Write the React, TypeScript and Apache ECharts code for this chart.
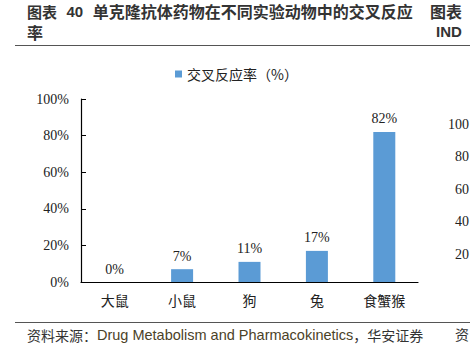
import React, { useEffect, useRef } from "react";
import * as echarts from "echarts";

const categories = ["大鼠", "小鼠", "狗", "兔", "食蟹猴"];
const values = [0, 7, 11, 17, 82];
const yTicks = [0, 20, 40, 60, 80, 100];
const rightTicks = ["100", "80", "60", "40", "20"];
const seriesName = "交叉反应率（%）";
const titleLine1 = "单克隆抗体药物在不同实验动物中的交叉反应";
const titleLine2 = "率";
const sourceLatin = "Drug Metabolism and Pharmacokinetics";

const CJK = '"Noto Sans CJK SC", sans-serif';
const SERIF = '"Liberation Serif", "Times New Roman", serif';
const SANS = '"Liberation Sans", Arial, sans-serif';

export default function App() {
  const ref = useRef<HTMLDivElement>(null);
  useEffect(() => {
    if (!ref.current) return;
    const chart = echarts.init(ref.current, undefined, { renderer: "svg" });
    const rightY = [124, 156, 189, 221, 254];
    chart.setOption({
      animation: false,
      backgroundColor: "#fff",
      legend: {
        data: [seriesName],
        left: 170,
        top: 62,
        itemWidth: 7,
        itemHeight: 7,
        itemGap: 4,
        icon: "rect",
        textStyle: { fontFamily: CJK, fontSize: 14, color: "#222" },
      },
      grid: { left: 81, right: 52, top: 99, bottom: 69, containLabel: false },
      xAxis: {
        type: "category",
        data: categories,
        axisLine: { lineStyle: { color: "#000", width: 1.2 } },
        axisTick: { inside: true, length: 5, lineStyle: { color: "#000" } },
        axisLabel: { fontFamily: CJK, fontSize: 14, color: "#222", margin: 11 },
      },
      yAxis: {
        type: "value",
        min: 0,
        max: 100,
        interval: 20,
        axisLine: { show: true, lineStyle: { color: "#000", width: 1.2 } },
        axisTick: { show: true, inside: true, length: 5, lineStyle: { color: "#000" } },
        splitLine: { show: false },
        axisLabel: {
          fontFamily: SERIF,
          fontSize: 14,
          color: "#222",
          margin: 12,
          formatter: (v: number) => (yTicks.includes(v) ? v + "%" : ""),
        },
      },
      series: [
        {
          name: seriesName,
          type: "bar",
          data: values,
          barWidth: 22,
          itemStyle: { color: "#5B9BD5" },
          label: {
            show: true,
            position: "top",
            distance: 6,
            formatter: "{c}%",
            fontFamily: SERIF,
            fontSize: 14,
            color: "#222",
          },
        },
      ],
      graphic: [
        {
          type: "text",
          left: 27,
          top: 3,
          style: {
            text: "{a|图表 }{b|40}{c| " + titleLine1 + "}",
            rich: {
              a: { fontFamily: CJK, fontSize: 15, lineHeight: 16, fill: "#333", fontWeight: "bold" },
              b: { fontFamily: SANS, fontSize: 15, lineHeight: 16, fill: "#333", fontWeight: "bold", padding: [0, 6, 0, 6] },
              c: { fontFamily: CJK, fontSize: 16, lineHeight: 16, fill: "#333", fontWeight: "bold" },
            },
          },
        },
        {
          type: "text",
          left: 27,
          top: 24,
          style: { text: titleLine2, fontFamily: CJK, fontSize: 16, lineHeight: 16, fill: "#333", fontWeight: "bold" },
        },
        {
          type: "text",
          left: 430,
          top: 3,
          style: { text: "图表", fontFamily: CJK, fontSize: 16, lineHeight: 16, fill: "#333", fontWeight: "bold" },
        },
        {
          type: "text",
          left: 436,
          top: 24,
          style: { text: "IND", fontFamily: SANS, fontSize: 15, fill: "#333", fontWeight: "bold" },
        },
        {
          type: "line",
          shape: { x1: 15, y1: 45.5, x2: 470, y2: 45.5 },
          style: { stroke: "#555", lineWidth: 1 },
        },
        {
          type: "line",
          shape: { x1: 15, y1: 322.5, x2: 470, y2: 322.5 },
          style: { stroke: "#555", lineWidth: 1 },
        },
        {
          type: "text",
          left: 27,
          top: 327,
          style: {
            text: "{a|资料来源：}{b|" + sourceLatin + "}{a|，华安证券}",
            rich: {
              a: { fontFamily: CJK, fontSize: 14, fill: "#333" },
              b: { fontFamily: SANS, fontSize: 14.5, fill: "#4b4228" },
            },
          },
        },
        {
          type: "text",
          left: 455,
          top: 327,
          style: { text: "资", fontFamily: CJK, fontSize: 14, fill: "#333" },
        },
        ...rightTicks.map((t, i) => ({
          type: "text",
          x: 469,
          y: rightY[i],
          style: {
            text: t,
            fontFamily: SERIF,
            fontSize: 14,
            fill: "#222",
            align: "right",
            verticalAlign: "middle",
          },
        })),
      ],
    });
    return () => chart.dispose();
  }, []);
  return (
    <div
      ref={ref}
      style={{ position: "fixed", left: 0, top: 0, width: 470, height: 351 }}
    />
  );
}
